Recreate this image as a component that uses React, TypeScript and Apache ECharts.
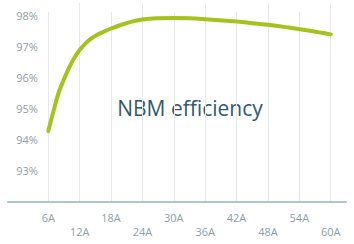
import React, { useEffect, useRef } from "react";
import * as echarts from "echarts";

const currents = [6, 7, 8, 9, 10, 11, 12, 13, 14, 15, 16, 18, 20, 22, 24, 27, 30, 33, 36, 40, 44, 48, 52, 56, 60];
const efficiency = [94.28, 94.92, 95.52, 95.94, 96.32, 96.63, 96.88, 97.07, 97.22, 97.33, 97.42, 97.57, 97.69, 97.79, 97.86, 97.9, 97.91, 97.9, 97.87, 97.82, 97.76, 97.69, 97.6, 97.5, 97.38];
const xTicks = [6, 12, 18, 24, 30, 36, 42, 48, 54, 60];
const lowerTicks = [12, 24, 36, 48, 60];
const yTicks = [93, 94, 95, 96, 97, 98];
const chartTitle = "NBM efficiency";

export default function App() {
  const ref = useRef<HTMLDivElement>(null);
  useEffect(() => {
    if (!ref.current) return;
    const chart = echarts.init(ref.current, undefined, { renderer: "svg" });
    const font = "'Open Sans', 'Noto Sans', sans-serif";
    chart.setOption({
      animation: false,
      backgroundColor: "#ffffff",
      grid: [
        { left: 8, right: 8, top: 12, bottom: 42 },
        { left: 16.9, right: 23.3, top: 12, bottom: 42 },
      ],
      xAxis: [
        {
          gridIndex: 0, type: "value", min: 0, max: 1,
          axisLine: { show: true, lineStyle: { color: "#b3c5ca", width: 2 } },
          axisTick: { show: false }, axisLabel: { show: false }, splitLine: { show: false },
        },
        {
          gridIndex: 1, type: "value", min: 0, max: 60, interval: 6,
          axisLine: { show: false },
          axisTick: { show: false },
          splitLine: { show: true, showMinLine: false, lineStyle: { color: "#e3eaec", width: 1 } },
          axisLabel: {
            show: true, margin: 8, color: "#8f9ea5", fontSize: 11, fontFamily: font, lineHeight: 14,
            customValues: xTicks,
            formatter: (v: number) => (lowerTicks.includes(v) ? "\n" + v + "A" : v + "A"),
          },
        },
        {
          gridIndex: 1, type: "value", min: 0, max: 60,
          axisLine: { show: false },
          axisTick: { show: true, length: 9, customValues: lowerTicks, lineStyle: { color: "#e3eaec", width: 1 } },
          axisLabel: { show: false }, splitLine: { show: false },
        },
      ],
      yAxis: [
        { gridIndex: 0, type: "value", show: false, min: 0, max: 1 },
        {
          gridIndex: 1, type: "value", min: 92, max: 98.1, interval: 1, offset: -21,
          axisLine: { show: false }, axisTick: { show: false }, splitLine: { show: false },
          axisLabel: {
            margin: 0, color: "#8f9ea5", fontSize: 11, fontFamily: font,
            customValues: yTicks,
            formatter: (v: number) => v + "%",
          },
        },
      ],
      graphic: [
        {
          type: "text", x: 190, y: 108,
          style: {
            text: chartTitle, fill: "#35596b", font: "21px 'Open Sans', sans-serif",
            textAlign: "center", textVerticalAlign: "middle",
          },
        },
      ],
      series: [
        {
          type: "line", xAxisIndex: 1, yAxisIndex: 1, smooth: 0.4, symbol: "none",
          lineStyle: { color: "#a7c11d", width: 4, cap: "round" },
          data: currents.map((c, i) => [c, efficiency[i]]),
        },
      ],
    });
    return () => chart.dispose();
  }, []);
  return <div ref={ref} style={{ width: 354, height: 244, position: "absolute", left: 0, top: 0 }} />;
}
